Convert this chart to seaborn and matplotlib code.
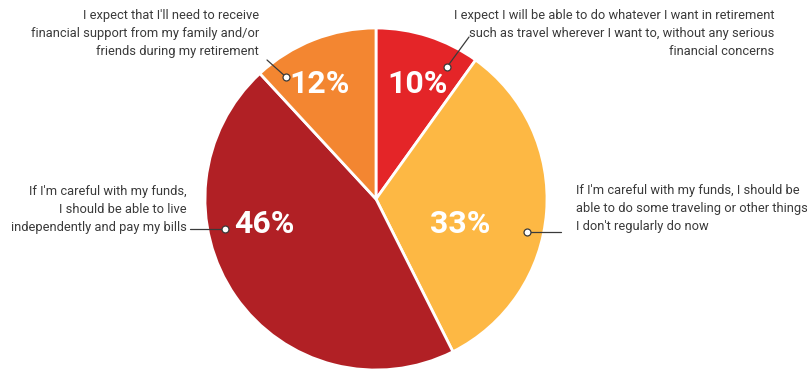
import matplotlib
matplotlib.use('Agg')
import matplotlib.pyplot as plt
import seaborn as sns

# Survey answers, clockwise from 12 o'clock
shares = [10, 33, 46, 12]
pct_labels = ['10%', '33%', '46%', '12%']
answers = [
    "I expect I will be able to do whatever I want in retirement\n"
    "such as travel wherever I want to, without any serious\n"
    "financial concerns",
    "If I'm careful with my funds, I should be\n"
    "able to do some traveling or other things\n"
    "I don't regularly do now",
    "If I'm careful with my funds,\n"
    "I should be able to live\n"
    "independently and pay my bills",
    "I expect that I'll need to receive\n"
    "financial support from my family and/or\n"
    "friends during my retirement",
]
colors = ['#e42528', '#fdb844', '#b12025', '#f38631']

sns.set_theme(style='white')
plt.rcParams['font.family'] = ['Roboto', 'DejaVu Sans']

W, H = 807, 370
fig = plt.figure(figsize=(W / 100, H / 100), dpi=100)
ax = fig.add_axes([0, 0, 1, 1])

cx, cy, r = 376, H - 199, 171
ax.pie(shares, colors=colors, startangle=90, counterclock=False,
       center=(cx, cy), radius=r, normalize=True,
       wedgeprops=dict(edgecolor='white', linewidth=2))
ax.set_xlim(0, W)
ax.set_ylim(0, H)
ax.set_aspect('auto')
ax.axis('off')

# layout in pixel coords from top-left
pct_pos = [(418, 84), (460, 224), (264, 224), (320, 84)]
dots = [(447, 67), (527, 232), (225, 229), (286, 77)]
ends = [(469, 37), (561, 232), (190, 229), (267, 60)]
text_pos = [(774, 9, 'right'), (576, 184, 'left'), (187, 185, 'right'), (259, 9, 'right')]

for i in range(len(shares)):
    px, py = pct_pos[i]
    ax.text(px, H - py, pct_labels[i], color='white', fontsize=23,
            fontweight='bold', ha='center', va='center')
    (dx, dy), (ex, ey) = dots[i], ends[i]
    ax.plot([dx, ex], [H - dy, H - ey], color='#3a3a3a', lw=0.9, zorder=4)
    ax.plot(dx, H - dy, 'o', ms=5, mfc='white', mec='#3a3a3a', mew=0.9, zorder=5)
    tx, ty, ha = text_pos[i]
    ax.text(tx, H - ty, answers[i], color='#3a3a3a', fontsize=9.3,
            ha=ha, va='top', multialignment=ha, linespacing=1.5)

fig.savefig('out.png', dpi=100)
